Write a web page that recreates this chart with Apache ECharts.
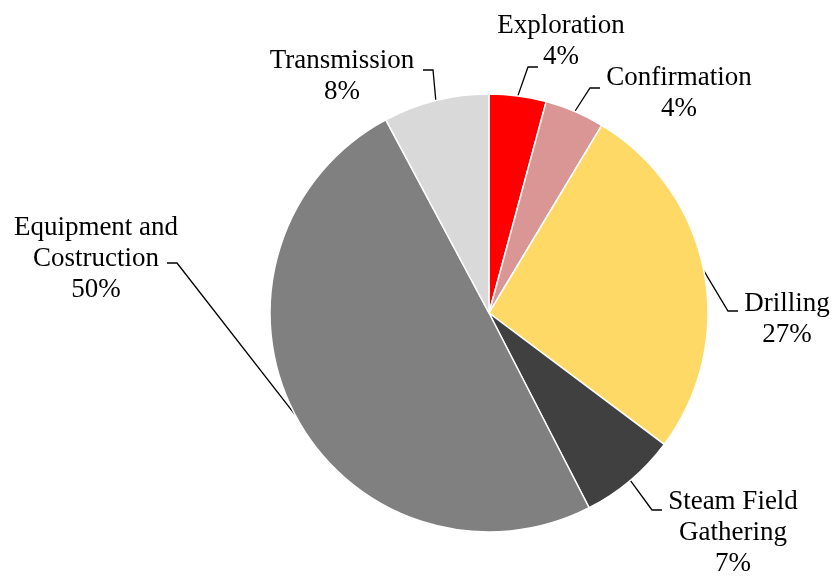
<!DOCTYPE html>
<html>
<head>
<meta charset="utf-8">
<script src="https://cdn.jsdelivr.net/npm/echarts@6/dist/echarts.min.js"></script>
<style>
  html, body { margin: 0; padding: 0; background: #fff; }
  #chart { width: 840px; height: 579px; }
</style>
</head>
<body>
<div id="chart"></div>
<script>
// slices, clockwise from 12 o'clock
var names = ['Exploration', 'Confirmation', 'Drilling', 'Steam Field\nGathering', 'Equipment and\nCostruction', 'Transmission']
var values = [4.2, 4.4, 26.6, 7.2, 49.7, 7.8]
var colors = ['#FF0000', '#D99694', '#FFD966', '#404040', '#808080', '#D9D9D9']

// where each label sits (centre of text block) and where its leader line ends
var labelPos = [
  { x: 561, y: 41, end: [538, 67], dir: -1 },
  { x: 679, y: 93, end: [600, 88], dir: -1 },
  { x: 787, y: 319, end: [738, 311], dir: -1 },
  { x: 733, y: 533, end: [662, 510], dir: -1 },
  { x: 96, y: 259, end: [167, 263], dir: 1 },
  { x: 342, y: 76, end: [423, 70], dir: 1 }
]

var chart = echarts.init(document.getElementById('chart'))

var pieData = []
for (var i = 0; i < names.length; i++) {
  pieData.push({ name: names[i], value: values[i], itemStyle: { color: colors[i] } })
}

chart.setOption({
  animation: false,
  backgroundColor: '#fff',
  series: [{
    type: 'pie',
    center: [489, 313],
    radius: 219,
    startAngle: 90,
    clockwise: true,
    data: pieData,
    itemStyle: { borderColor: '#fff', borderWidth: 1.5 },
    label: {
      show: true,
      position: 'outside',
      color: '#000',
      fontFamily: '"Liberation Serif", "Times New Roman", serif',
      fontSize: 27,
      lineHeight: 31,
      align: 'center',
      formatter: function (p) {
        return p.name + '\n' + Math.round(p.percent) + '%'
      }
    },
    labelLine: {
      show: true,
      length: 10,
      length2: 10,
      lineStyle: { color: '#000', width: 1.3 }
    },
    labelLayout: function (params) {
      var lp = labelPos[params.dataIndex]
      var start = params.labelLinePoints ? params.labelLinePoints[0] : lp.end
      var elbow = [lp.end[0] + lp.dir * 10, lp.end[1]]
      return {
        x: lp.x,
        y: lp.y,
        align: 'center',
        verticalAlign: 'middle',
        labelLinePoints: [start, elbow, lp.end]
      }
    }
  }]
})
</script>
</body>
</html>
